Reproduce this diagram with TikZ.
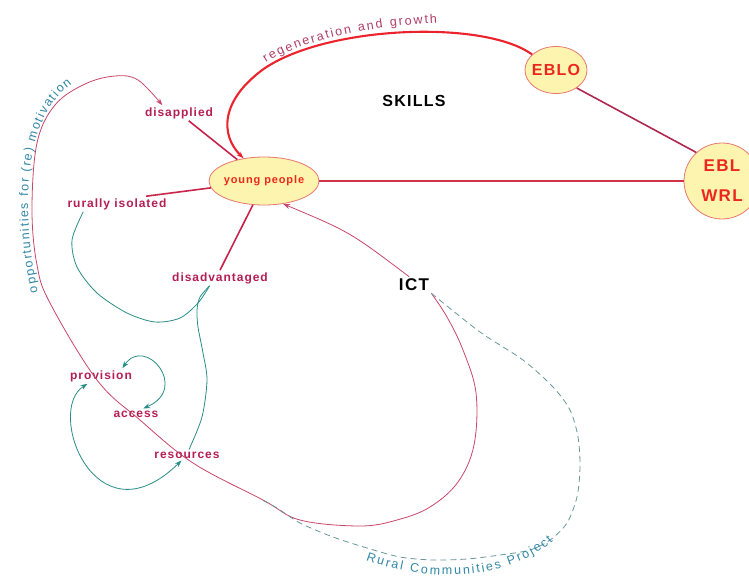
\documentclass[tikz,border=0pt]{standalone}
\usepackage{fontspec}
\setmainfont{Liberation Sans}
\newfontfamily\mapfont[LetterSpace=8]{Liberation Sans}
\newfontfamily\ribbonfont{Liberation Sans}
\usetikzlibrary{shapes,arrows.meta,positioning,decorations.text}

\begin{document}
\begin{tikzpicture}[x=1pt, y=-1pt,
        every node/.style={font=\mapfont\bfseries\fontsize{12}{14}\selectfont},
        issue/.style={text=issuered, inner sep=2pt},
        hub/.style={ellipse, draw=hubedge, fill=hubfill, text=hubtext, line width=0.8pt},
        bigword/.style={text=black, inner sep=2pt, font=\mapfont\bfseries\fontsize{16}{18}\selectfont},
        spoke/.style={draw=spokered, line width=1.6pt},
        growth/.style={draw=growthred, line width=2.1pt},
        loopline/.style={draw=looppink, line width=0.8pt},
        tealline/.style={draw=tealc, line width=0.8pt},
        dashline/.style={draw=dashc, line width=0.8pt, dash pattern=on 6pt off 4pt},
        ribbon/.style={decorate, decoration={text along path, text align={fit to path}, text color=#1}},
        >={Stealth[length=7pt,width=5pt]}]
        \definecolor{issuered}{RGB}{180,30,80}
        \definecolor{hubedge}{RGB}{232,120,110}
        \definecolor{hubfill}{RGB}{253,244,175}
        \definecolor{hubtext}{RGB}{236,40,30}
        \definecolor{spokered}{RGB}{200,35,75}
        \definecolor{linkred}{RGB}{210,50,70}
        \definecolor{linkplum}{RGB}{175,40,80}
        \definecolor{growthred}{RGB}{235,35,45}
        \definecolor{growthtext}{RGB}{175,60,100}
        \definecolor{looppink}{RGB}{200,70,105}
        \definecolor{tealc}{RGB}{40,140,135}
        \definecolor{ribbonteal}{RGB}{50,135,165}
        \definecolor{dashc}{RGB}{105,150,150}

        \useasboundingbox (0,0) rectangle (749,578);

        % Hubs
        \node[hub, minimum width=110pt, minimum height=48pt, inner xsep=-6pt, font=\mapfont\bfseries\fontsize{11}{13}\selectfont] (yp) at (264,181) {young people};
        \node[hub, minimum width=62pt, minimum height=47pt, inner xsep=-4pt, font=\mapfont\bfseries\fontsize{16}{18}\selectfont] (eblo) at (556,70) {EBLO};
        \node[hub, circle, minimum size=76pt, inner sep=0pt, align=center, font=\mapfont\bfseries\fontsize{17}{30}\selectfont] (ebl) at (722,181) {EBL\\WRL};

        % Issue labels
        \node[issue] (disapplied) at (179,113) {disapplied};
        \node[issue] (rurally) at (117,204) {rurally isolated};
        \node[issue] (disadv) at (220,278) {disadvantaged};
        \node[issue] (provision) at (101,376) {provision};
        \node[issue] (access) at (136,414) {access};
        \node[issue] (resources) at (187,455) {resources};

        % Big words
        \node[bigword] (skills) at (414,101) {SKILLS};
        \node[bigword, font=\mapfont\bfseries\fontsize{17}{19}\selectfont] (ict) at (414,285) {ICT};
        \coordinate (rcp) at (262,500);

        % Spokes into young people
        \draw[spoke] (disapplied) -- (yp);
        \draw[spoke] (rurally.15) -- (yp);
        \draw[spoke] (disadv.north) -- (yp.-115);
        \draw[spoke, draw=linkred] (yp) -- (ebl);
        \draw[spoke, draw=linkplum] (eblo.-41) -- (ebl.132);

        % Regeneration and growth arc
        \draw[growth, ->] (eblo.147) .. controls (485,20) and (330,25) .. (265,68) .. controls (220,100) and (220,135) .. (yp.132);
        \path[ribbon=growthtext, decoration={text={|\ribbonfont\fontsize{12.5}{14}\selectfont|regeneration and growth}}]
            (266,63) .. controls (300,41) and (370,26) .. (437,23);

        % ICT back to young people
        \draw[loopline, ->] (ict.120) .. controls (350,232) .. (yp.-50);

        % Big loop round to disapplied
        \draw[loopline, ->] plot[smooth, tension=0.6] coordinates {(ict.south east) (447,317) (463,350) (476,393) (474,445) (458,482) (430,507) (397,520) (360,526) (300,520) (263,500) (193,463) (140,420) (97,380) (50,303) (37,265) (32,210) (37,143) (55,105) (85,84) (115,76) (138,80) (disapplied.155)};
        \path[ribbon=ribbonteal, decoration={text={|\ribbonfont\fontsize{12.5}{14}\selectfont|opportunities for (re) motivation}}]
            (38,292) .. controls (26,240) and (24,175) .. (37,135) .. controls (45,112) and (55,96) .. (72,84);

        % Rural Communities Project
        \draw[dashline] plot[smooth] coordinates {(ict.south east) (480,332) (523,360) (553,387) (570,410) (578,437) (580,467) (577,497) (567,523) (550,540) (530,550) (500,555) (467,559) (433,560) (400,557) (367,548) (333,537) (300,523) (277,508) (rcp)};
        \path[ribbon=ribbonteal, decoration={text={|\ribbonfont\fontsize{12.5}{14}\selectfont|Rural Communities Project}}]
            (366,560) .. controls (420,580) and (500,585) .. (553,541);

        % Teal links
        \draw[tealline] plot[smooth] coordinates {(rurally.-167) (72,240) (77,267) (97,293) (127,313) (155,322) (180,318) (198,303) (disadv.-143)};
        \draw[tealline] plot[smooth] coordinates {(resources.70) (202,417) (207,380) (203,353) (198,327) (197,310) (200,297) (disadv.-143)};
        \draw[tealline, <->] (provision.20) .. controls (145,335) and (190,388) .. (access.37);
        \draw[tealline, <->] (provision.-150) .. controls (45,410) and (95,545) .. (resources.-135);
    \end{tikzpicture}
\end{document}
